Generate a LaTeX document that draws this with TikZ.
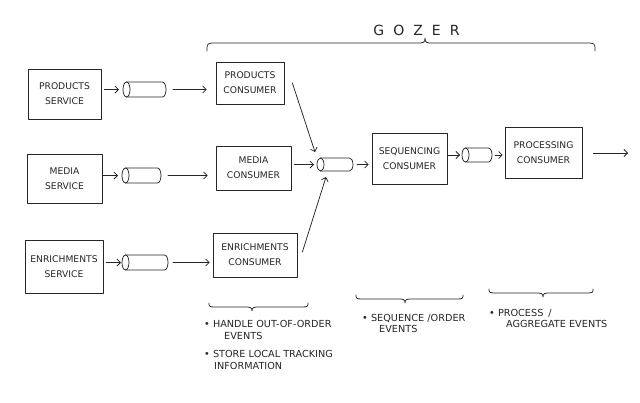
\documentclass[tikz,border=0pt]{standalone}
\usepackage{fontspec}
\setmainfont{DejaVu Sans}
\usetikzlibrary{arrows.meta,calc}
\tikzset{
  ink/.style={draw=black!85, line width=0.75pt, line cap=round, line join=round},
  box/.style={ink, rectangle, align=center, inner sep=2pt, font=\fontsize{9.2}{15}\selectfont, text=black!85},
  pipebox/.style={inner sep=0pt, outer sep=0pt},
  arr/.style={ink, -{Straight Barb[length=3.5pt,width=7pt]}},
  note/.style={align=left, inner sep=0pt, anchor=north west, font=\fontsize{9.7}{11.5}\selectfont, text=black!85},
}
\newcommand\pipe[5]{% name, cx, cy, length, diameter
  \node[pipebox, minimum width=#4, minimum height=#5] (#1) at (#2,#3) {};
  \draw[ink] ([xshift=3.5]#1.north west) -- ([xshift=-3.5]#1.north east)
     arc[start angle=90, end angle=-90, x radius=3.5, y radius={#5/2}]
     -- ([xshift=3.5]#1.south west);
  \draw[ink] ([xshift=3.5]#1.west) ellipse[x radius=3.5, y radius={#5/2}];
}
\newcommand\cbrace[6]{% x1, x2, xtip, yline, dend, dtip
  \draw[ink] (#1,{#4-(#5)}) .. controls (#1,#4) and (#1,#4) .. ({#1+10},#4)
    -- ({#3-8},#4) .. controls ({#3-2},#4) and (#3,#4) .. (#3,{#4+(#6)})
    .. controls (#3,#4) and ({#3+2},#4) .. ({#3+8},#4)
    -- ({#2-10},#4) .. controls (#2,#4) and (#2,#4) .. (#2,{#4-(#5)});
}
\begin{document}
\begin{tikzpicture}[x=1pt,y=1pt]
\fill[white] (0,0) rectangle (640,-402);
\useasboundingbox (0,0) rectangle (640,-402);

% services
\node[box, minimum width=73, minimum height=50] (ps) at (64.5,-94) {PRODUCTS\\SERVICE};
\node[box, minimum width=75, minimum height=49] (ms) at (64.5,-178.5) {MEDIA\\SERVICE};
\node[box, minimum width=78, minimum height=53] (es) at (64,-266.5) {ENRICHMENTS\\SERVICE};

% consumers
\node[box, minimum width=68, minimum height=42] (pc) at (250,-83) {PRODUCTS\\CONSUMER};
\node[box, minimum width=75, minimum height=44] (mc) at (253.5,-168) {MEDIA\\CONSUMER};
\node[box, minimum width=84, minimum height=44] (ec) at (255,-255) {ENRICHMENTS\\CONSUMER};
\node[box, minimum width=75, minimum height=51] (sc) at (409.5,-158.5) {SEQUENCING\\CONSUMER};
\node[box, minimum width=77, minimum height=51] (prc) at (543.5,-152.5) {PROCESSING\\CONSUMER};

% pipes
\pipe{p1}{144.5}{-89.5}{43}{15}
\pipe{p2}{141.5}{-175.5}{39}{15}
\pipe{p3}{145}{-262.5}{46}{15}
\pipe{p4}{335}{-164.5}{36}{13}
\pipe{p5}{477}{-155}{30}{14}

% connectors
\draw[arr, shorten <=3pt, shorten >=4pt] (ps.east |- p1.west) -- (p1.west);
\draw[arr, shorten <=7pt, shorten >=9pt] (p1.east) -- (p1.east -| pc.west);
\draw[arr, shorten <=1pt, shorten >=4pt] (ms.east |- p2.west) -- (p2.west);
\draw[arr, shorten <=7pt, shorten >=8pt] (p2.east) -- (p2.east -| mc.west);
\draw[arr, shorten <=3pt, shorten >=1pt] (es.east |- p3.west) -- (p3.west);
\draw[arr, shorten <=5pt, shorten >=3pt] (p3.east) -- (p3.east -| ec.west);
\draw[arr] ([xshift=8pt]pc.east) -- ([shift={(-2pt,6pt)}]p4.north west);
\draw[arr, shorten <=3pt, shorten >=3pt] (mc.east |- p4.west) -- (p4.west);
\draw[arr] ([shift={(5pt,3pt)}]ec.east) -- ([shift={(9pt,-6pt)}]p4.south west);
\draw[arr, shorten <=4pt, shorten >=3pt] (p4.east) -- (p4.east -| sc.west);
\draw[arr, shorten <=1pt, shorten >=2pt] (sc.east |- p5.west) -- (p5.west);
\draw[arr, shorten <=3pt, shorten >=2pt] (p5.east) -- (p5.east -| prc.west);
\coordinate (out) at (628,-153);
\draw[arr, shorten <=11pt] (prc.east |- out) -- (out);

% gozer
\node[font=\fontsize{14}{14}\selectfont, text=black!85] (gozer) at (416.5,-30) {G\kern9pt O\kern9pt Z\kern9pt E\kern9pt R};
\cbrace{207}{595}{425}{-43}{8}{5}

% lower braces
\cbrace{209}{308}{252}{-307}{-4}{-4}
\cbrace{356}{463}{405}{-299}{-4}{-4}
\cbrace{489}{593}{543}{-293}{-4}{-4}

% notes
\node[note] (n1) at (204,-320.5) {\textbullet\ HANDLE OUT-OF-ORDER\\\hspace*{20pt}EVENTS};
\node[note] (n2) at (204,-350.5) {\textbullet\ STORE LOCAL TRACKING\\\hspace*{10pt}INFORMATION};
\node[note] (n3) at (362,-314) {\textbullet\ SEQUENCE /ORDER\\\hspace*{17pt}EVENTS};
\node[note] (n4) at (489,-309) {\textbullet\ PROCESS\enspace/\\\hspace*{17pt}AGGREGATE EVENTS};
\end{tikzpicture}
\end{document}
